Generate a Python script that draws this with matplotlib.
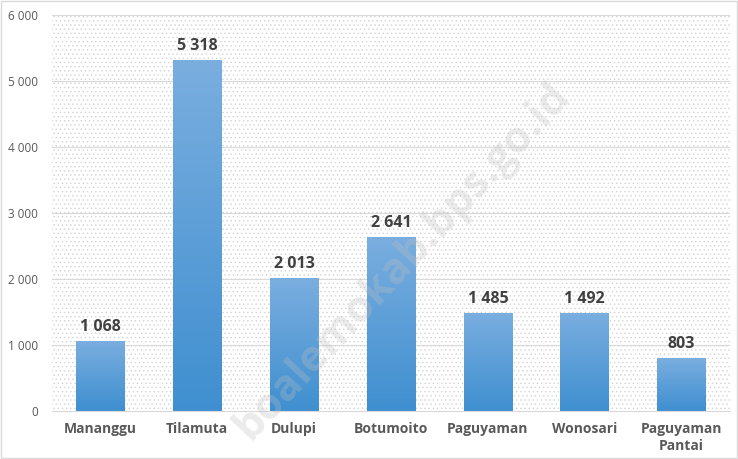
import numpy as np
import matplotlib
matplotlib.use('Agg')
import matplotlib.pyplot as plt
from matplotlib.colors import LinearSegmentedColormap
from matplotlib.patches import Rectangle

# data
categories = ['Mananggu', 'Tilamuta', 'Dulupi', 'Botumoito', 'Paguyaman', 'Wonosari', 'Paguyaman\nPantai']
values = [1068, 5318, 2013, 2641, 1485, 1492, 803]
yticks = [0, 1000, 2000, 3000, 4000, 5000, 6000]

plt.rcParams['font.family'] = ['Open Sans', 'DejaVu Sans']
plt.rcParams['hatch.linewidth'] = 0.5

fig = plt.figure(figsize=(7.38, 4.59), dpi=100)
ax = fig.add_axes([52 / 738, 1 - 411 / 459, 678 / 738, 396 / 459])

# dotted background
ax.add_patch(Rectangle((0, 0), 1, 1, transform=ax.transAxes, facecolor='white',
                       edgecolor='#d4d4d4', hatch='....', linewidth=0, zorder=0))

for t in yticks[1:]:
    ax.axhline(t, color='#d9d9d9', linewidth=0.8, zorder=1)

x = np.arange(len(categories))
bars = ax.bar(x, values, width=0.5, color='none', edgecolor='none', zorder=2)

cmap = LinearSegmentedColormap.from_list('blu', ['#3f8fd0', '#7aaedf'])
grad = np.linspace(0, 1, 256).reshape(-1, 1)
for b, v in zip(bars, values):
    x0, w, h = b.get_x(), b.get_width(), b.get_height()
    im = ax.imshow(grad, cmap=cmap, aspect='auto', origin='lower',
                   extent=[x0, x0 + w, 0, h], zorder=2)
    im.set_clip_path(b)
    ax.text(x0 + w / 2, h + 90, f'{v:,}'.replace(',', ' '),
            ha='center', va='bottom', fontsize=11.5, fontweight='bold', color='#404040')

ax.set_xlim(-0.5, len(categories) - 0.5)
ax.set_ylim(0, 6000)
ax.set_yticks(yticks)
ax.set_yticklabels([f'{t:,}'.replace(',', ' ') for t in yticks], fontsize=8.5, color='#595959')
ax.set_xticks(x)
ax.set_xticklabels(categories, fontsize=10, fontweight='bold', color='#595959', linespacing=1.3)
ax.tick_params(length=0, pad=8)
ax.tick_params(axis='y', pad=10)
for s in ['top', 'right', 'left']:
    ax.spines[s].set_visible(False)
ax.spines['bottom'].set_color('#d9d9d9')

# watermark
fig.text(0.545, 0.43, 'boalemokab.bps.go.id', rotation=47, fontsize=31, fontweight='bold',
         color='#bfbfbf', alpha=0.3, ha='center', va='center')

# outer border
fig.patches.append(Rectangle((0.001, 0.002), 0.997, 0.996, transform=fig.transFigure,
                             fill=False, edgecolor='#d9d9d9', linewidth=1))

fig.savefig('out.png', dpi=100)
